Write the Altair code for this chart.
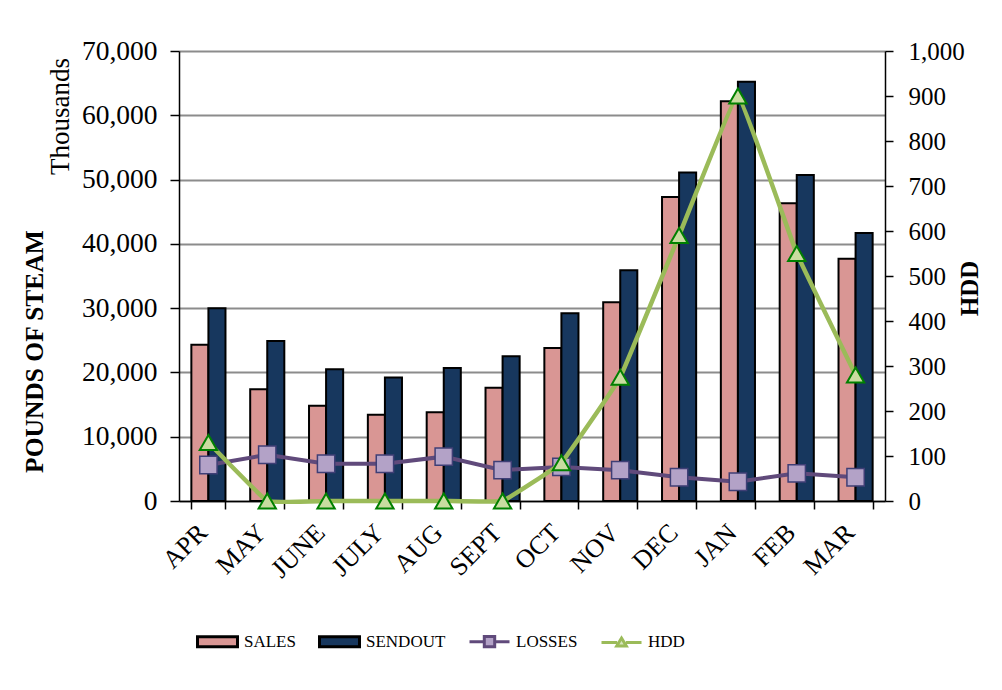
import altair as alt
import pandas as pd

months = ["APR", "MAY", "JUNE", "JULY", "AUG", "SEPT", "OCT", "NOV", "DEC", "JAN", "FEB", "MAR"]
sales = [24300, 17400, 14800, 13400, 13800, 17600, 23800, 30900, 47300, 62200, 46300, 37700]
sendout = [30000, 24900, 20500, 19200, 20700, 22500, 29200, 35900, 51100, 65200, 50700, 41700]
losses = [5600, 7200, 5800, 5800, 6900, 4800, 5300, 4800, 3700, 3000, 4300, 3700]
hdd = [130, 0, 0, 0, 0, 0, 85, 275, 590, 900, 550, 280]

series_names = ["SALES", "SENDOUT", "LOSSES", "HDD"]
series_colors = ["#D99694", "#17375E", "#604A7B", "#9BBB59"]
left_ticks = list(range(0, 70001, 10000))
right_ticks = list(range(0, 1001, 100))

bars_df = pd.DataFrame({
    "month": months * 2,
    "series": ["SALES"] * len(months) + ["SENDOUT"] * len(months),
    "value": sales + sendout,
})
loss_df = pd.DataFrame({"month": months, "series": ["LOSSES"] * len(months), "value": losses})
hdd_df = pd.DataFrame({"month": months, "series": ["HDD"] * len(months), "value": hdd})

FONT = "Liberation Serif"

x_axis = alt.Axis(
    labelAngle=315, labelAlign="right", labelBaseline="top", labelPadding=10, labelOffset=-15,
    labelFont=FONT, labelFontSize=26, labelColor="black",
    tickBand="extent", tickSize=8, tickColor="black", tickWidth=1.5,
    domainColor="black", domainWidth=1.5, grid=False, title=None,
)
x_scale = alt.Scale(paddingInner=0.42, paddingOuter=0.21)


def xenc():
    return alt.X("month:N", sort=months, scale=x_scale, axis=x_axis)


shape_expr = (
    "datum.value === 'SALES' || datum.value === 'SENDOUT' ? 'M-1,-0.25H1V0.25H-1Z' : "
    "datum.value === 'LOSSES' ? 'M-1,0H-0.26M0.26,0H1M-0.26,-0.26H0.26V0.26H-0.26Z' : "
    "'M-1,0H-0.22M0.22,0H1M0,-0.22L0.24,0.18H-0.24Z'"
)
fill_expr = (
    "datum.value === 'SALES' ? '#D99694' : datum.value === 'SENDOUT' ? '#17375E' : "
    "datum.value === 'LOSSES' ? '#B3A2C7' : '#D7E4BD'"
)
stroke_expr = (
    "datum.value === 'SALES' || datum.value === 'SENDOUT' ? '#000000' : "
    "datum.value === 'LOSSES' ? '#604A7B' : '#9BBB59'"
)

legend = alt.Legend(
    title=None, orient="none", legendX=17, legendY=569, direction="horizontal",
    symbolSize=1600, labelFont=FONT, labelFontSize=17, labelColor="black",
    columnPadding=17, labelOffset=5,
    symbolType=alt.ExprRef(expr=shape_expr),
    symbolFillColor=alt.ExprRef(expr=fill_expr),
    symbolStrokeColor=alt.ExprRef(expr=stroke_expr),
    symbolStrokeWidth=3,
    symbolOpacity=1,
)
# colour scale uses the same names in another order so that its (hidden) legend stays apart
color_enc = alt.Color("series:N", scale=alt.Scale(domain=series_names[::-1], range=series_colors[::-1]), legend=None)
opac_enc = alt.Opacity("series:N", scale=alt.Scale(domain=series_names, range=[1, 1, 1, 1]), legend=legend)

left_scale = alt.Scale(domain=[0, 70000])
right_scale = alt.Scale(domain=[0, 1000])

bars = alt.Chart(bars_df).mark_bar(stroke="black", strokeWidth=2).encode(
    x=xenc(),
    xOffset=alt.XOffset("series:N", sort=["SALES", "SENDOUT"]),
    y=alt.Y("value:Q", scale=left_scale, axis=alt.Axis(
        values=left_ticks, format=",d", title="Thousands",
        titleX=-119, titleY=65, titleAngle=270, titleAlign="center", titleBaseline="middle",
        titleFont=FONT, titleFontSize=27, titleFontWeight="normal", titleColor="black",
        labelFont=FONT, labelFontSize=27.5, labelColor="black", labelPadding=13,
        tickSize=9, tickColor="black", tickWidth=1.5,
        domainColor="black", domainWidth=1.5,
        grid=True, gridColor="#8C8C8C", gridWidth=1.8,
    )),
    color=color_enc,
    opacity=opac_enc,
)

loss_line = alt.Chart(loss_df).mark_line(strokeWidth=4).encode(
    x=xenc(),
    y=alt.Y("value:Q", scale=left_scale, axis=alt.Axis(
        orient="left", title="POUNDS OF STEAM", labels=False, ticks=False, domain=False, grid=False,
        titleX=-145, titleY=300, titleAngle=270, titleAlign="center", titleBaseline="middle",
        titleFont=FONT, titleFontSize=25.5, titleFontWeight="bold", titleColor="black",
    )),
    color=color_enc,
    opacity=opac_enc,
)
loss_pts = alt.Chart(loss_df).mark_point(
    shape="square", size=300, filled=True, fill="#B3A2C7", stroke="#3F3F76", strokeWidth=1.5, opacity=1
).encode(
    x=xenc(),
    y=alt.Y("value:Q", scale=left_scale, axis=None),
)

hdd_line = alt.Chart(hdd_df).mark_line(strokeWidth=4.5, interpolate="cardinal", tension=0.8).encode(
    x=xenc(),
    y=alt.Y("value:Q", scale=right_scale, axis=alt.Axis(
        orient="right", values=right_ticks, format=",d", title="HDD",
        titleX=84, titleY=237, titleAngle=270, titleAlign="center", titleBaseline="middle",
        titleFont=FONT, titleFontSize=25, titleFontWeight="bold", titleColor="black",
        labelFont=FONT, labelFontSize=25, labelColor="black", labelPadding=15,
        tickSize=8, tickColor="black", tickWidth=1.5,
        domainColor="black", domainWidth=1.5, grid=False,
    )),
    color=color_enc,
    opacity=opac_enc,
)
hdd_pts = alt.Chart(hdd_df).mark_point(
    shape="triangle-up", size=300, filled=True, fill="#C9DCA0", stroke="#008000", strokeWidth=2, opacity=1
).encode(
    x=xenc(),
    y=alt.Y("value:Q", scale=right_scale, axis=None),
)

chart = alt.layer(bars, loss_line, loss_pts, hdd_line, hdd_pts).resolve_scale(y="independent").properties(
    width=706, height=450,
    autosize=alt.AutoSizeParams(type="none"),
    padding={"left": 171, "top": 43, "right": 109, "bottom": 181},
    background="white",
).configure_view(stroke=None).configure(font=FONT)

chart.save("out.html", embed_options={"renderer": "svg", "actions": False})
